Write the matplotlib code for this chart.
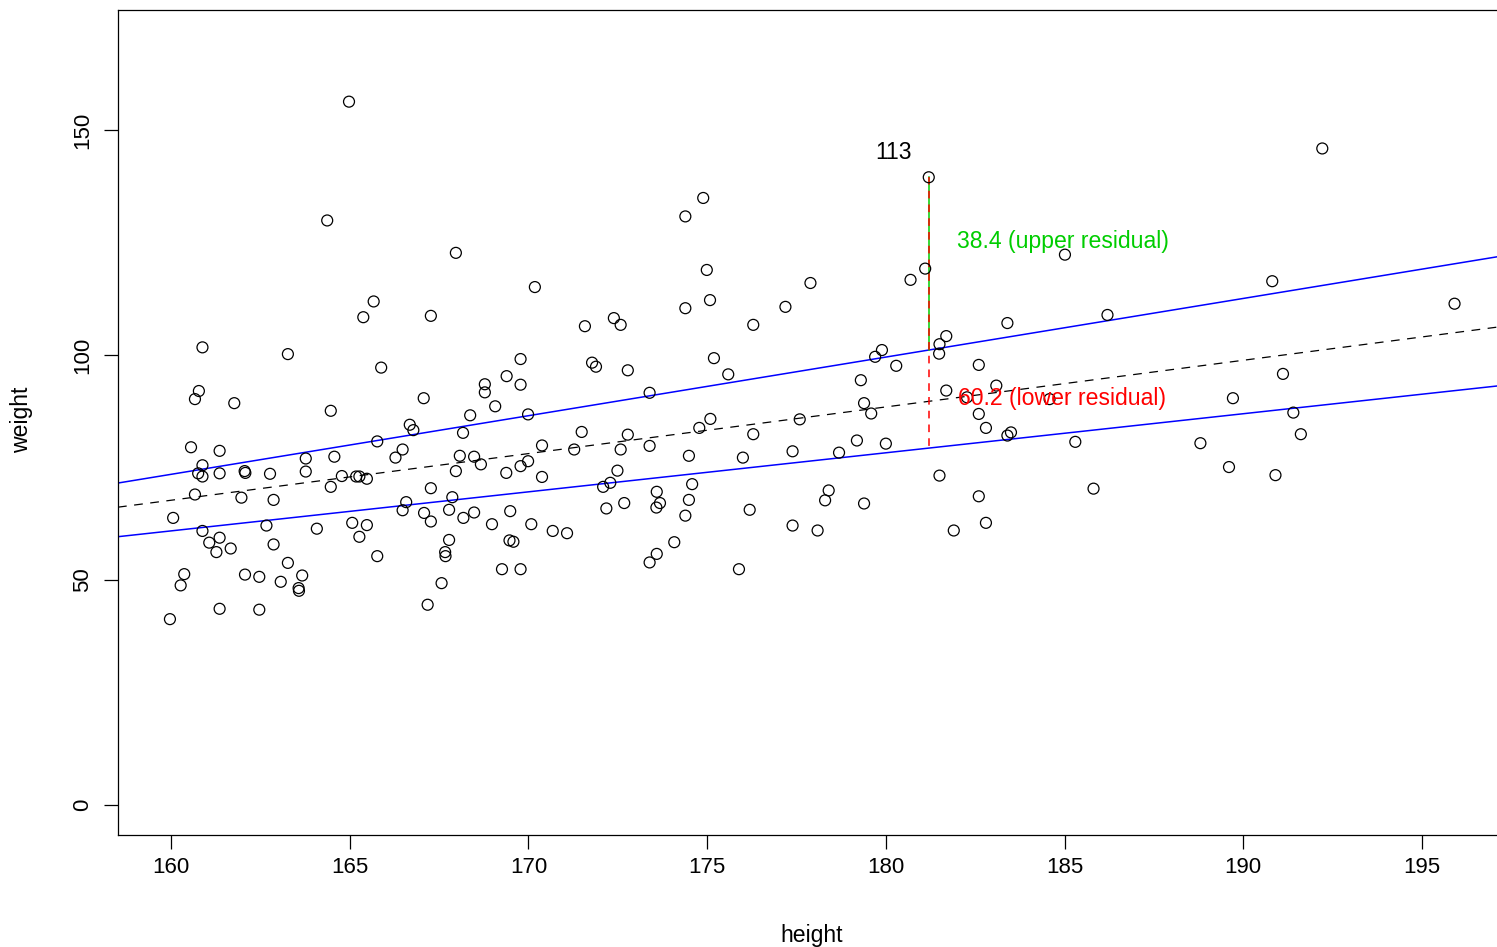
import matplotlib
matplotlib.use("Agg")
import matplotlib.pyplot as plt
import numpy as np

plt.rcParams['font.family'] = ['Liberation Sans', 'DejaVu Sans']

height = [
    164.98, 164.37, 167.97, 165.67, 165.38, 167.27,
    160.88, 163.27, 165.88, 160.78, 160.67, 161.77, 164.47, 167.07, 168.78, 168.78,
    169.07, 168.37, 166.68, 166.78, 168.17, 165.77, 160.56, 161.36, 166.48, 166.28,
    163.77, 164.57, 168.08, 168.48, 168.67, 160.88, 160.76, 160.88, 161.36, 162.06,
    162.08, 162.77, 163.77, 164.78, 165.18, 165.27, 165.48, 167.97, 164.47, 167.27,
    160.67, 161.97, 162.87, 167.87, 166.58, 160.06, 166.48, 167.08, 167.27, 167.78,
    168.18, 168.48, 168.98, 160.88, 162.67, 164.08, 165.07, 165.48, 165.27, 161.36,
    161.07, 161.27, 161.67, 162.87, 167.78, 167.67, 167.68, 165.77, 160.37, 160.27,
    162.07, 162.47, 163.27, 163.67, 163.07, 163.57, 163.58, 167.57, 167.18, 161.36,
    162.47, 159.97,
    170.18, 171.58, 172.39, 172.58, 174.89, 174.39, 174.99, 175.08, 174.39, 176.29,
    177.19, 177.89,
    169.78, 169.39, 169.78, 171.78, 171.89, 172.78, 175.19, 175.59, 173.39, 169.99,
    171.49, 172.78, 175.09, 174.78, 177.59, 176.29, 170.38, 171.28, 172.58, 173.39,
    174.49, 176.00, 177.39, 178.69, 169.99, 169.78, 169.38, 170.38, 172.49, 172.29,
    172.09, 174.58, 173.59, 173.68, 173.58, 174.49, 174.39, 172.68, 172.18, 169.49,
    170.08, 170.68, 171.08, 169.47, 169.58, 176.19, 178.40, 178.30, 177.39, 178.09,
    174.08, 173.59, 173.39, 169.26, 169.78, 175.89,
    181.20, 181.10, 180.69, 185.01, 183.40, 186.20, 181.69,
    181.50, 179.89, 179.70, 181.49, 180.29, 182.60, 179.30, 183.09, 181.69, 182.27,
    184.58, 179.39, 179.59, 182.60, 182.80, 183.50, 183.40, 179.19, 180.00, 185.30,
    181.50, 185.81, 179.39, 182.60, 182.80, 181.90,
    192.21, 190.81, 195.91,
    191.11, 189.71, 191.40, 191.61, 188.80, 189.60, 190.90,
]

weight = [
    156.3, 129.9, 122.7, 111.9, 108.4, 108.7,
    101.7, 100.2, 97.2, 92.0, 90.2, 89.3, 87.6, 90.4, 93.5, 91.7,
    88.6, 86.6, 84.5, 83.3, 82.7, 80.8, 79.5, 78.7, 79.0, 77.2,
    77.0, 77.4, 77.6, 77.4, 75.7, 75.5, 73.7, 73.0, 73.7, 74.2,
    73.8, 73.6, 74.1, 73.1, 73.0, 73.0, 72.5, 74.2, 70.7, 70.4,
    69.0, 68.3, 67.8, 68.4, 67.3, 63.8, 65.5, 64.9, 63.0, 65.6,
    63.8, 65.0, 62.4, 60.9, 62.1, 61.4, 62.7, 62.2, 59.6, 59.4,
    58.3, 56.2, 57.0, 57.9, 58.9, 56.2, 55.3, 55.3, 51.3, 48.8,
    51.2, 50.7, 53.8, 51.0, 49.6, 48.2, 47.6, 49.3, 44.5, 43.6,
    43.4, 41.3,
    115.1, 106.4, 108.2, 106.7, 134.9, 130.8, 118.9, 112.2, 110.4, 106.7,
    110.7, 116.0,
    99.1, 95.3, 93.4, 98.3, 97.4, 96.6, 99.3, 95.7, 91.6, 86.8,
    82.9, 82.3, 85.8, 83.8, 85.7, 82.4, 79.9, 79.0, 79.0, 79.8,
    77.6, 77.2, 78.6, 78.3, 76.4, 75.3, 73.8, 72.9, 74.3, 71.6,
    70.7, 71.3, 69.6, 67.1, 66.1, 67.8, 64.3, 67.1, 65.9, 65.3,
    62.4, 60.9, 60.4, 58.8, 58.5, 65.6, 69.9, 67.7, 62.1, 61.0,
    58.4, 55.8, 53.9, 52.4, 52.4, 52.4,
    139.5, 119.2, 116.7, 122.3, 107.1, 108.9, 104.2,
    102.4, 101.1, 99.6, 100.3, 97.6, 97.8, 94.4, 93.2, 92.1, 90.6,
    90.2, 89.3, 87.0, 86.9, 83.8, 82.8, 82.1, 81.0, 80.3, 80.7,
    73.2, 70.3, 67.0, 68.6, 62.7, 61.0,
    145.9, 116.4, 111.4,
    95.8, 90.4, 87.2, 82.4, 80.4, 75.1, 73.3,
]

# fitted lines: (intercept, slope)
mid_line = (-98.2, 1.037)
upper_line = (-135.0, 1.303)
lower_line = (-77.97, 0.868)

highlight_label = "113"
highlight_index = 156  # position of the labelled point in the lists
upper_resid_text = "38.4 (upper residual)"
lower_resid_text = "60.2 (lower residual)"

green = "#00CD00"
red = "#FF0000"

fig = plt.figure(figsize=(14.97, 9.47), dpi=100)
ax = fig.add_axes([118/1497, 1-835/947, (1497-118)/1497, (835-10)/947])

ax.scatter(height, weight, s=62, facecolors='none', edgecolors='black', linewidths=0.9, zorder=3)

xlim = (158.517, 197.098)
xs = np.array(xlim)
ax.plot(xs, mid_line[0] + mid_line[1]*xs, color='black', lw=0.9, linestyle=(0, (7, 6)), zorder=2)
ax.plot(xs, upper_line[0] + upper_line[1]*xs, color='blue', lw=1.1, zorder=2)
ax.plot(xs, lower_line[0] + lower_line[1]*xs, color='blue', lw=1.1, zorder=2)

hx = height[highlight_index]
hy = weight[highlight_index]
up_y = upper_line[0] + upper_line[1]*hx
lo_y = lower_line[0] + lower_line[1]*hx
ax.plot([hx, hx], [hy, up_y], color=green, lw=1.1, zorder=2)
ax.plot([hx, hx], [hy, lo_y], color=red, lw=1.1, linestyle=(0, (5, 4)), zorder=2)

ax.text(hx - 1.0, hy + 5.6, highlight_label, fontsize=16.6, ha='center', va='center', color='black')
ax.text(hx + 0.78, hy - 14.2, upper_resid_text, fontsize=16.6, ha='left', va='center', color=green)
ax.text(hx + 0.83, hy - 49.1, lower_resid_text, fontsize=16.6, ha='left', va='center', color=red)

ax.set_xlim(*xlim)
ax.set_ylim(-6.67, 176.67)
ax.set_xticks(np.arange(160, 196, 5))
ax.set_yticks([0, 50, 100, 150])
ax.set_yticklabels(['0', '50', '100', '150'], rotation=90, va='center')
ax.tick_params(axis='both', length=10, width=0.9, labelsize=16, direction='out', pad=6)
ax.tick_params(axis='y', pad=8)
for sp in ax.spines.values():
    sp.set_linewidth(0.9)
ax.spines['right'].set_visible(False)

fig.text(812/1497, 1-935/947, "height", ha='center', va='center', fontsize=16.6)
fig.text(22/1497, 1-420/947, "weight", ha='center', va='center', fontsize=16.6, rotation=90)

fig.savefig("out.png", dpi=100)
